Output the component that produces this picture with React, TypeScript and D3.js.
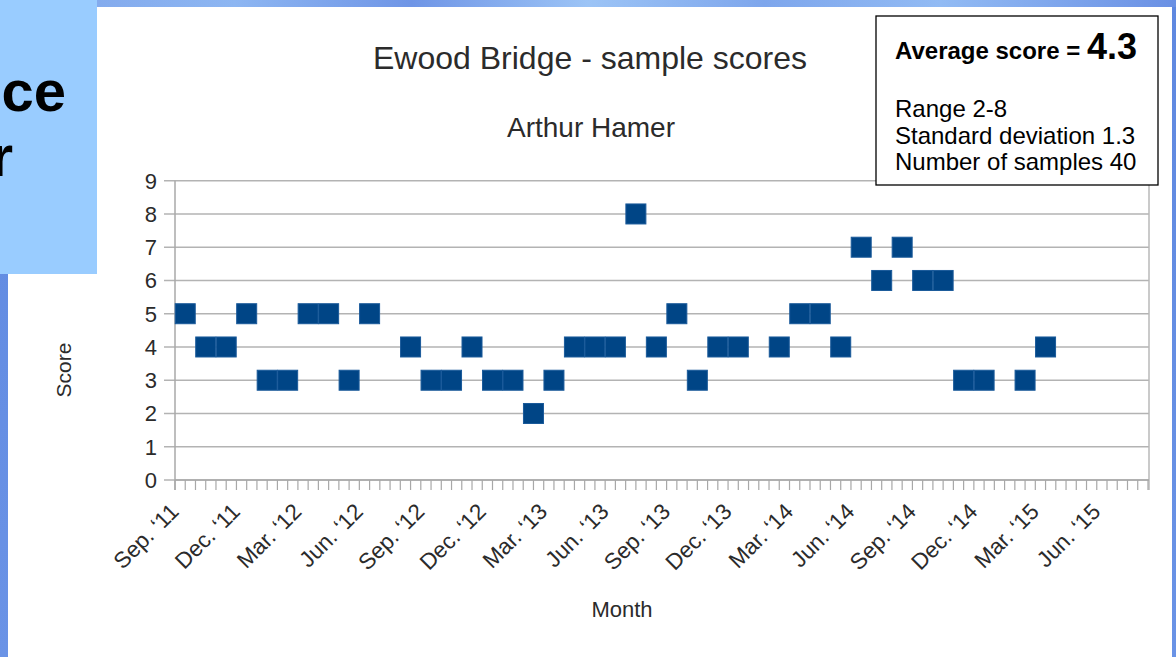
import React from "react";
import * as d3 from "d3";

// ---- data ----
const months: string[] = [
  "2011-09", "2011-10", "2011-11", "2011-12", "2012-01", "2012-02", "2012-03", "2012-04", "2012-05", "2012-06",
  "2012-08", "2012-09", "2012-10", "2012-11", "2012-12", "2013-01", "2013-02", "2013-03", "2013-04", "2013-05",
  "2013-06", "2013-07", "2013-08", "2013-09", "2013-10", "2013-11", "2013-12", "2014-02", "2014-03", "2014-04",
  "2014-05", "2014-06", "2014-07", "2014-08", "2014-09", "2014-10", "2014-11", "2014-12", "2015-02", "2015-03",
];
const scores: number[] = [
  5, 4, 4, 5, 3, 3, 5, 5, 3, 5,
  4, 3, 3, 4, 3, 3, 2, 3, 4, 4,
  4, 8, 4, 5, 3, 4, 4, 4, 5, 5,
  4, 7, 6, 7, 6, 6, 3, 3, 3, 4,
];
const tickLabels: string[] = [
  "Sep. ‘11", "Dec. ‘11", "Mar. ‘12", "Jun. ‘12", "Sep. ‘12", "Dec. ‘12", "Mar. ‘13", "Jun. ‘13",
  "Sep. ‘13", "Dec. ‘13", "Mar. ‘14", "Jun. ‘14", "Sep. ‘14", "Dec. ‘14", "Mar. ‘15", "Jun. ‘15",
];
const yTicks: number[] = [0, 1, 2, 3, 4, 5, 6, 7, 8, 9];
const startYear = 2011;
const startMonth = 9;
const axisMonths = 47.55;
const monthsPerLabel = 3;

const title = "Ewood Bridge - sample scores";
const subtitle = "Arthur Hamer";
const yTitle = "Score";
const xTitle = "Month";
const statHeadline = "Average score = ";
const statValue = "4.3";
const statLines: string[] = ["Range 2-8", "Standard deviation 1.3", "Number of samples 40"];

const FONT = "'Liberation Sans', Arial, sans-serif";

function monthIndex(s: string): number {
  const [y, m] = s.split("-").map(Number);
  return (y - startYear) * 12 + (m - startMonth);
}

export default function App() {
  const W = 1176, H = 657;
  const left = 175, right = 1149, top = 180.7, bottom = 480;
  const x = d3.scaleLinear().domain([0, axisMonths]).range([left, right]);
  const y = d3.scaleLinear().domain([0, 9]).range([bottom, top]);
  const minor = d3.range(0, axisMonths, 0.5);
  const size = 20;
  const grid = "#b3b3b3";
  const textCol = "#2b2b2b";

  return (
    <svg width={W} height={H} style={{ position: "absolute", left: 0, top: 0 }} fontFamily={FONT}>
      <defs>
        <linearGradient id="topStrip" x1="0" x2="1" y1="0" y2="0">
          <stop offset="0" stopColor="#7da3ea" />
          <stop offset="0.2" stopColor="#8db6f2" />
          <stop offset="0.35" stopColor="#6f95e6" />
          <stop offset="0.5" stopColor="#9cc4f6" />
          <stop offset="0.65" stopColor="#7ea6ec" />
          <stop offset="0.8" stopColor="#92bbf4" />
          <stop offset="1" stopColor="#6a90e4" />
        </linearGradient>
        <linearGradient id="side" x1="0" x2="0" y1="0" y2="1">
          <stop offset="0" stopColor="#5f88e0" />
          <stop offset="1" stopColor="#6a93e6" />
        </linearGradient>
      </defs>
      <rect x={0} y={0} width={W} height={H} fill="url(#side)" />
      <rect x={0} y={0} width={W} height={7} fill="url(#topStrip)" />
      <rect x={8} y={7} width={1164} height={H - 7} fill="#ffffff" />
      <rect x={0} y={0} width={97} height={274} fill="#99ccff" />
      <text x={66} y={111} textAnchor="end" fontSize={58} fontWeight="bold" fill="#000">ce</text>
      <text x={13} y={176} textAnchor="end" fontSize={58} fontWeight="bold" fill="#000">r</text>

      {/* titles */}
      <text x={590} y={69} textAnchor="middle" fontSize={32} fill={textCol}>{title}</text>
      <text x={591} y={137} textAnchor="middle" fontSize={28} fill={textCol}>{subtitle}</text>

      {/* gridlines */}
      {yTicks.map((t) => (
        <g key={"y" + t}>
          <line x1={164} x2={right} y1={y(t)} y2={y(t)} stroke={grid} strokeWidth={1.5} />
          <text x={157} y={y(t)} dy="0.36em" textAnchor="end" fontSize={22} fill={textCol}>{t}</text>
        </g>
      ))}
      <line x1={left} x2={left} y1={top} y2={bottom + 10} stroke="#a8a8a8" strokeWidth={1.5} />
      <line x1={right} x2={right} y1={top} y2={bottom + 10} stroke="#b8b8b8" strokeWidth={1.5} />
      <line x1={left} x2={right} y1={bottom} y2={bottom} stroke="#a8a8a8" strokeWidth={1.5} />
      {minor.map((m) => (
        <line key={"m" + m} x1={x(m)} x2={x(m)} y1={bottom} y2={bottom + 10} stroke="#a8a8a8" strokeWidth={1.2} />
      ))}
      {tickLabels.map((lab, i) => {
        const tx = x(i * monthsPerLabel) + 5;
        const ty = bottom + 33;
        return (
          <text key={lab} x={tx} y={ty} textAnchor="end" fontSize={22.5} fill={textCol}
            transform={`rotate(-45 ${tx} ${ty})`}>{lab}</text>
        );
      })}

      {/* axis titles */}
      <text x={71} y={370} textAnchor="middle" fontSize={21} fill={textCol}
        transform="rotate(-90 71 370)">{yTitle}</text>
      <text x={622} y={617} textAnchor="middle" fontSize={22} fill={textCol}>{xTitle}</text>

      {/* points */}
      {months.map((mo, i) => (
        <rect key={mo} x={x(monthIndex(mo) + 0.5) - size / 2} y={y(scores[i]) - size / 2}
          width={size} height={size} fill="#004586" stroke="#1a5a9a" strokeWidth={1} />
      ))}

      {/* stats box */}
      <rect x={876} y={16} width={282} height={169} fill="#fff" stroke="#000" strokeWidth={1.3} />
      <text x={895} y={59} fontWeight="bold" fill="#000">
        <tspan fontSize={24}>{statHeadline}</tspan>
        <tspan fontSize={36}>{statValue}</tspan>
      </text>
      {statLines.map((s, i) => (
        <text key={s} x={895} y={117 + i * 26.5} fontSize={24} fill="#000">{s}</text>
      ))}
    </svg>
  );
}
